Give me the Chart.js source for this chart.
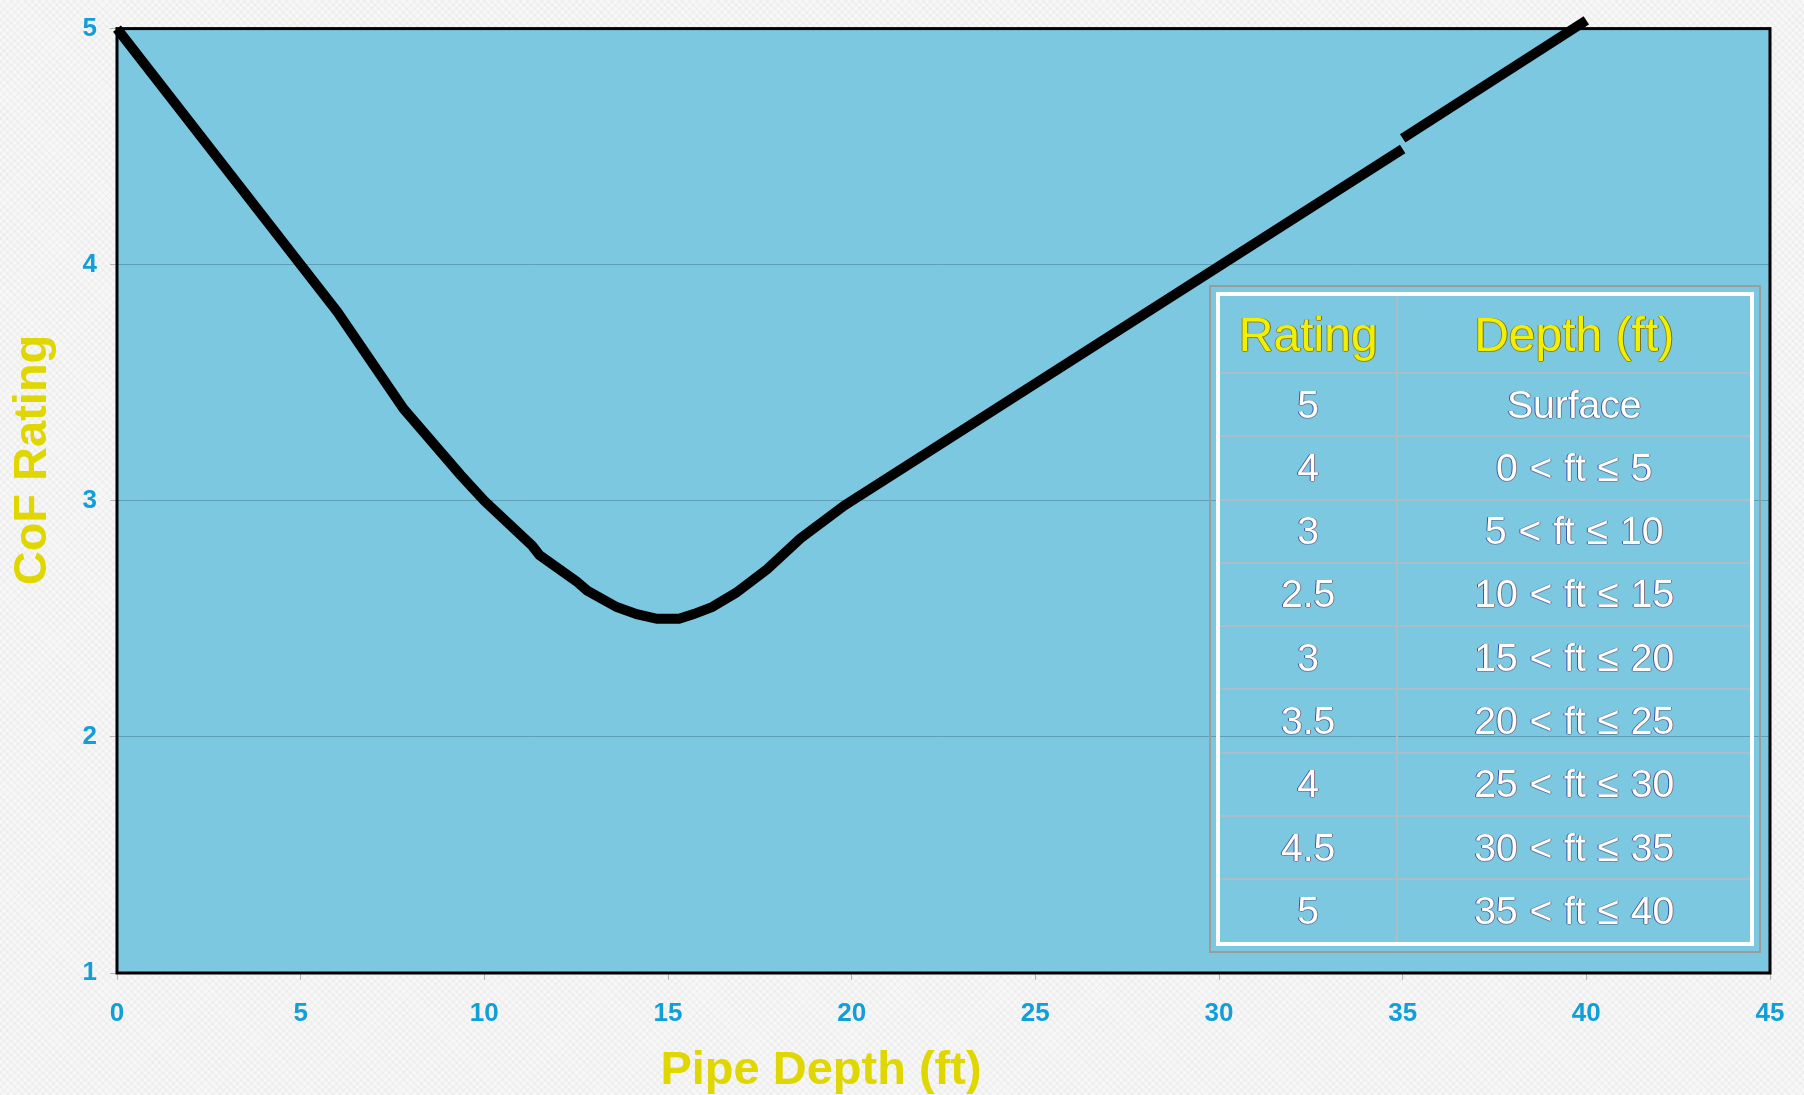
<!DOCTYPE html>
<html>
<head>
<meta charset="utf-8">
<script src="https://cdn.jsdelivr.net/npm/chart.js@4.4.0/dist/chart.umd.min.js"></script>
<style>
    html, body { margin: 0; padding: 0; overflow: hidden; }
    body {
        width: 1804px; height: 1095px;
        background-color: #f7f7f7;
        background-image: repeating-linear-gradient(45deg, rgba(0,0,0,0.025) 0 2px, transparent 2px 5px),
                          repeating-linear-gradient(-45deg, rgba(0,0,0,0.02) 0 2px, transparent 2px 5px);
        font-family: "Liberation Sans", Arial, sans-serif;
    }
    #wrap { position: relative; width: 1804px; height: 1095px; }
    #cofChart { position: absolute; left: 0; top: 0; }
    #ratingBox {
        position: absolute; left: 1209px; top: 285px; width: 552px; height: 668px;
        box-sizing: border-box; border: 2px solid #9c9c9c; padding: 5px;
    }
    #ratingBox table {
        width: 100%; height: 100%; border-collapse: collapse; table-layout: fixed;
        border: 4px solid #ffffff;
    }
    #ratingBox th, #ratingBox td {
        border: 2px solid #a9bec8; text-align: center; padding: 0; white-space: nowrap;
    }
    #ratingBox th {
        height: 76px; font-size: 48px; font-weight: normal; color: #f2f000;
        text-shadow: -1px 0 0 #8a8a30, 1px 0 0 #6f6f20, 0 1px 0 #8a8a30;
    }
    #ratingBox td {
        font-size: 39px; color: #ffffff; word-spacing: 1px;
        text-shadow: -1px 0 0 rgba(40,40,150,0.75), 1px 0 0 rgba(140,70,70,0.6), 0 1px 0 rgba(60,60,100,0.4);
    }
</style>
</head>
<body>
<div id="wrap">
    <canvas id="cofChart" width="1804" height="1095"></canvas>
    <div id="ratingBox"><table id="ratingTable"></table></div>
</div>
<script>
// CoF rating curve
const depthFt = [0, 5, 6, 7.8, 9.35, 10, 11.3, 11.5, 12.5, 12.8, 13.6, 14.15, 14.7, 15.3, 15.7, 16.2, 16.85, 17.7, 18.6, 19.8, 35];
const cofRating = [5, 4, 3.8, 3.39, 3.11, 3.0, 2.81, 2.77, 2.66, 2.62, 2.55, 2.52, 2.5, 2.5, 2.52, 2.55, 2.61, 2.71, 2.84, 2.98, 4.49];
// last piece is drawn separately (slight offset in the original)
const tailDepthFt = [35, 40];
const tailRating = [4.535, 5.035];

const xTickValues = [0, 5, 10, 15, 20, 25, 30, 35, 40, 45];
const yTickValues = [1, 2, 3, 4, 5];

const tableHeaders = ["Rating", "Depth (ft)"];
const tableRatings = ["5", "4", "3", "2.5", "3", "3.5", "4", "4.5", "5"];
const tableDepths = ["Surface", "0 < ft ≤ 5", "5 < ft ≤ 10", "10 < ft ≤ 15", "15 < ft ≤ 20",
                     "20 < ft ≤ 25", "25 < ft ≤ 30", "30 < ft ≤ 35", "35 < ft ≤ 40"];

const xTitle = "Pipe Depth (ft)";
const yTitle = "CoF Rating";

function toPoints(xs, ys) {
    return xs.map((x, i) => ({ x: x, y: ys[i] }));
}

function buildTable() {
    const table = document.querySelector("#ratingTable");
    let html = '<colgroup><col style="width:33.6%"><col></colgroup>';
    html += `<tr><th>${tableHeaders[0]}</th><th>${tableHeaders[1]}</th></tr>`;
    html += tableRatings.map((r, i) => `<tr><td>${r}</td><td>${tableDepths[i]}</td></tr>`).join('');
    table.innerHTML = html;
}

const plotStyle = {
    id: "plotStyle",
    beforeDraw(chart) {
        const { ctx, chartArea: a } = chart;
        ctx.save();
        ctx.fillStyle = "#7cc8e1";
        ctx.fillRect(a.left, a.top, a.right - a.left, a.bottom - a.top);
        ctx.restore();
    },
    beforeDatasetsDraw(chart) {
        const { ctx, chartArea: a } = chart;
        ctx.save();
        ctx.strokeStyle = "#000000";
        ctx.lineWidth = 3;
        ctx.strokeRect(a.left, a.top, a.right - a.left, a.bottom - a.top);
        ctx.restore();
    },
    afterDraw(chart) {
        const ctx = chart.ctx;
        ctx.save();
        ctx.fillStyle = "#e0d600";
        ctx.font = 'bold 47px "Liberation Sans", Arial, sans-serif';
        ctx.textAlign = "center";
        ctx.textBaseline = "middle";
        ctx.fillText(xTitle, 821, 1071);
        ctx.translate(33, 460);
        ctx.rotate(-Math.PI / 2);
        ctx.fillText(yTitle, 0, 0);
        ctx.restore();
    }
};

function createChart() {
    const ctx = document.getElementById("cofChart").getContext("2d");
    const tickFont = { family: '"Liberation Sans", Arial, sans-serif', size: 26, weight: "bold" };

    window.cofChart = new Chart(ctx, {
        type: "scatter",
        data: {
            datasets: [{
                data: toPoints(depthFt, cofRating),
                showLine: true,
                borderColor: "#000000",
                borderWidth: 10,
                pointRadius: 0,
                tension: 0,
                clip: false
            }, {
                data: toPoints(tailDepthFt, tailRating),
                showLine: true,
                borderColor: "#000000",
                borderWidth: 10,
                pointRadius: 0,
                tension: 0,
                clip: false
            }]
        },
        options: {
            responsive: false,
            animation: false,
            devicePixelRatio: 1,
            layout: { padding: { top: 25, right: 34, left: 0, bottom: 0 } },
            plugins: { legend: { display: false }, tooltip: { enabled: false } },
            scales: {
                x: {
                    type: "linear",
                    min: 0,
                    max: 45,
                    afterBuildTicks: (scale) => { scale.ticks = xTickValues.map(v => ({ value: v })); },
                    afterFit: (scale) => { scale.height = 122; },
                    border: { display: false },
                    grid: { drawOnChartArea: false, tickLength: 7, tickColor: "#b5b5b5", lineWidth: 1 },
                    ticks: { color: "#129fd8", font: tickFont, padding: 18, maxRotation: 0 }
                },
                y: {
                    type: "linear",
                    min: 1,
                    max: 5,
                    afterBuildTicks: (scale) => { scale.ticks = yTickValues.map(v => ({ value: v })); },
                    afterFit: (scale) => { scale.width = 117; },
                    border: { display: false },
                    grid: { color: "#5e9fb6", tickLength: 7, tickColor: "#b5b5b5", lineWidth: 1 },
                    ticks: { color: "#129fd8", font: tickFont, padding: 13 }
                }
            }
        },
        plugins: [plotStyle]
    });
}

buildTable();
createChart();
</script>
</body>
</html>
